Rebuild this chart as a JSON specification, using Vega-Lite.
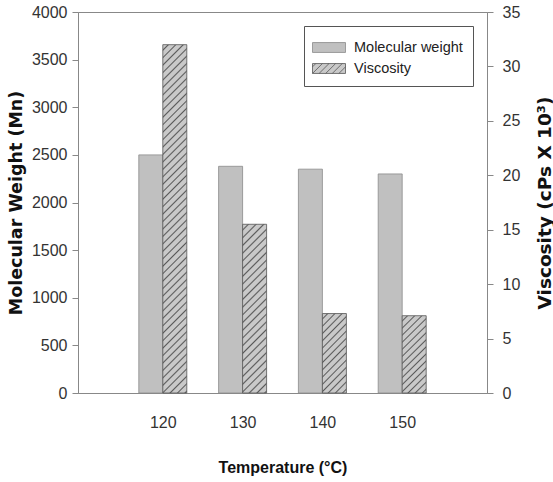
{
  "$schema": "https://vega.github.io/schema/vega-lite/v6.json",
  "autosize": {"type": "none"},
  "padding": {"left": 78, "top": 12, "right": 66, "bottom": 89},
  "width": 409,
  "height": 381,
  "background": "#ffffff",
  "config": {
    "view": {"stroke": "#888888", "strokeWidth": 1},
    "font": "Liberation Sans",
    "axis": {"grid": false, "domainColor": "#888888", "tickColor": "#888888", "labelFont": "Liberation Sans", "labelFontSize": 16, "labelColor": "#333333", "titleColor": "#111111"},
    "legend": {"orient": "top-right", "offset": 14, "padding": 10, "strokeColor": "#555555", "fillColor": "#ffffff", "rowPadding": 2, "symbolOffset": 3.5, "labelOffset": 13.5, "labelFont": "Liberation Sans", "labelFontSize": 14.5, "labelColor": "#222222", "symbolSize": 484, "symbolStrokeWidth": 0.8}
  },
  "data": {"values": [
    {"temp": 120, "mw": 2500, "visc": 32},
    {"temp": 130, "mw": 2380, "visc": 15.5},
    {"temp": 140, "mw": 2350, "visc": 7.3},
    {"temp": 150, "mw": 2300, "visc": 7.1}
  ]},
  "encoding": {
    "x": {"field": "temp", "type": "quantitative", "scale": {"domain": [110, 160], "nice": false, "zero": false},
      "axis": {"values": [120, 130, 140, 150], "ticks": false, "tickSize": 0, "labelPadding": 21, "labelFontSize": 16, "title": "Temperature (°C)", "titleFont": "Liberation Sans", "titleFontWeight": "bold", "titleFontSize": 16, "titleY": 79, "titleBaseline": "alphabetic"}}
  },
  "layer": [
    {
      "mark": {"type": "bar", "width": 24, "xOffset": -12, "fill": "#c0c0c0", "stroke": "#8a8a8a", "strokeWidth": 0.8},
      "encoding": {
        "y": {"field": "mw", "type": "quantitative", "scale": {"domain": [0, 4000], "nice": false},
          "axis": {"orient": "left", "values": [0, 500, 1000, 1500, 2000, 2500, 3000, 3500, 4000], "format": "d", "tickSize": 6, "labelPadding": 5, "title": "Molecular Weight (Mn)", "titleFont": "DejaVu Sans", "titleFontWeight": "bold", "titleFontSize": 17.5, "titleAngle": -90, "titleBaseline": "alphabetic", "titleAlign": "center", "titleX": -57, "titleY": 190.5}}
      }
    },
    {
      "encoding": {
        "y": {"field": "visc", "type": "quantitative", "scale": {"domain": [0, 35], "nice": false},
          "axis": {"orient": "right", "values": [0, 5, 10, 15, 20, 25, 30, 35], "tickSize": 6, "labelPadding": 9, "title": "Viscosity (cPs X 10³)", "titleFont": "DejaVu Sans", "titleFontWeight": "bold", "titleFontSize": 18.5, "titleAngle": -90, "titleBaseline": "alphabetic", "titleAlign": "center", "titleX": 63, "titleY": 190.5}}
      },
      "layer": [
        {
          "transform": [{"filter": "datum.temp == 120"}],
          "mark": {"type": "bar", "width": 24, "xOffset": 12, "stroke": "#555555", "strokeWidth": 0.8,
            "fill": {"gradient": "linear", "x1": 0, "y1": 0, "x2": 0.0733, "y2": 1.0639, "stops": [
{"offset":0.011,"color":"#c9c9c9"},{"offset":0.015,"color":"#5a5a5a"},{"offset":0.019,"color":"#c9c9c9"},
{"offset":0.031,"color":"#c9c9c9"},{"offset":0.035,"color":"#5a5a5a"},{"offset":0.039,"color":"#c9c9c9"},
{"offset":0.051,"color":"#c9c9c9"},{"offset":0.055,"color":"#5a5a5a"},{"offset":0.059,"color":"#c9c9c9"},
{"offset":0.071,"color":"#c9c9c9"},{"offset":0.075,"color":"#5a5a5a"},{"offset":0.079,"color":"#c9c9c9"},
{"offset":0.091,"color":"#c9c9c9"},{"offset":0.095,"color":"#5a5a5a"},{"offset":0.099,"color":"#c9c9c9"},
{"offset":0.111,"color":"#c9c9c9"},{"offset":0.115,"color":"#5a5a5a"},{"offset":0.119,"color":"#c9c9c9"},
{"offset":0.131,"color":"#c9c9c9"},{"offset":0.135,"color":"#5a5a5a"},{"offset":0.139,"color":"#c9c9c9"},
{"offset":0.151,"color":"#c9c9c9"},{"offset":0.155,"color":"#5a5a5a"},{"offset":0.159,"color":"#c9c9c9"},
{"offset":0.171,"color":"#c9c9c9"},{"offset":0.175,"color":"#5a5a5a"},{"offset":0.179,"color":"#c9c9c9"},
{"offset":0.191,"color":"#c9c9c9"},{"offset":0.195,"color":"#5a5a5a"},{"offset":0.199,"color":"#c9c9c9"},
{"offset":0.211,"color":"#c9c9c9"},{"offset":0.215,"color":"#5a5a5a"},{"offset":0.219,"color":"#c9c9c9"},
{"offset":0.231,"color":"#c9c9c9"},{"offset":0.235,"color":"#5a5a5a"},{"offset":0.239,"color":"#c9c9c9"},
{"offset":0.251,"color":"#c9c9c9"},{"offset":0.255,"color":"#5a5a5a"},{"offset":0.259,"color":"#c9c9c9"},
{"offset":0.271,"color":"#c9c9c9"},{"offset":0.275,"color":"#5a5a5a"},{"offset":0.279,"color":"#c9c9c9"},
{"offset":0.291,"color":"#c9c9c9"},{"offset":0.295,"color":"#5a5a5a"},{"offset":0.299,"color":"#c9c9c9"},
{"offset":0.311,"color":"#c9c9c9"},{"offset":0.315,"color":"#5a5a5a"},{"offset":0.319,"color":"#c9c9c9"},
{"offset":0.331,"color":"#c9c9c9"},{"offset":0.335,"color":"#5a5a5a"},{"offset":0.339,"color":"#c9c9c9"},
{"offset":0.351,"color":"#c9c9c9"},{"offset":0.355,"color":"#5a5a5a"},{"offset":0.359,"color":"#c9c9c9"},
{"offset":0.371,"color":"#c9c9c9"},{"offset":0.375,"color":"#5a5a5a"},{"offset":0.379,"color":"#c9c9c9"},
{"offset":0.391,"color":"#c9c9c9"},{"offset":0.395,"color":"#5a5a5a"},{"offset":0.399,"color":"#c9c9c9"},
{"offset":0.411,"color":"#c9c9c9"},{"offset":0.415,"color":"#5a5a5a"},{"offset":0.419,"color":"#c9c9c9"},
{"offset":0.431,"color":"#c9c9c9"},{"offset":0.435,"color":"#5a5a5a"},{"offset":0.439,"color":"#c9c9c9"},
{"offset":0.451,"color":"#c9c9c9"},{"offset":0.455,"color":"#5a5a5a"},{"offset":0.459,"color":"#c9c9c9"},
{"offset":0.471,"color":"#c9c9c9"},{"offset":0.475,"color":"#5a5a5a"},{"offset":0.479,"color":"#c9c9c9"},
{"offset":0.491,"color":"#c9c9c9"},{"offset":0.495,"color":"#5a5a5a"},{"offset":0.499,"color":"#c9c9c9"},
{"offset":0.511,"color":"#c9c9c9"},{"offset":0.515,"color":"#5a5a5a"},{"offset":0.519,"color":"#c9c9c9"},
{"offset":0.531,"color":"#c9c9c9"},{"offset":0.535,"color":"#5a5a5a"},{"offset":0.539,"color":"#c9c9c9"},
{"offset":0.551,"color":"#c9c9c9"},{"offset":0.555,"color":"#5a5a5a"},{"offset":0.559,"color":"#c9c9c9"},
{"offset":0.571,"color":"#c9c9c9"},{"offset":0.575,"color":"#5a5a5a"},{"offset":0.579,"color":"#c9c9c9"},
{"offset":0.591,"color":"#c9c9c9"},{"offset":0.595,"color":"#5a5a5a"},{"offset":0.599,"color":"#c9c9c9"},
{"offset":0.611,"color":"#c9c9c9"},{"offset":0.615,"color":"#5a5a5a"},{"offset":0.619,"color":"#c9c9c9"},
{"offset":0.631,"color":"#c9c9c9"},{"offset":0.635,"color":"#5a5a5a"},{"offset":0.639,"color":"#c9c9c9"},
{"offset":0.651,"color":"#c9c9c9"},{"offset":0.655,"color":"#5a5a5a"},{"offset":0.659,"color":"#c9c9c9"},
{"offset":0.671,"color":"#c9c9c9"},{"offset":0.675,"color":"#5a5a5a"},{"offset":0.679,"color":"#c9c9c9"},
{"offset":0.691,"color":"#c9c9c9"},{"offset":0.695,"color":"#5a5a5a"},{"offset":0.699,"color":"#c9c9c9"},
{"offset":0.711,"color":"#c9c9c9"},{"offset":0.715,"color":"#5a5a5a"},{"offset":0.719,"color":"#c9c9c9"},
{"offset":0.731,"color":"#c9c9c9"},{"offset":0.735,"color":"#5a5a5a"},{"offset":0.739,"color":"#c9c9c9"},
{"offset":0.751,"color":"#c9c9c9"},{"offset":0.755,"color":"#5a5a5a"},{"offset":0.759,"color":"#c9c9c9"},
{"offset":0.771,"color":"#c9c9c9"},{"offset":0.775,"color":"#5a5a5a"},{"offset":0.779,"color":"#c9c9c9"},
{"offset":0.791,"color":"#c9c9c9"},{"offset":0.795,"color":"#5a5a5a"},{"offset":0.799,"color":"#c9c9c9"},
{"offset":0.811,"color":"#c9c9c9"},{"offset":0.815,"color":"#5a5a5a"},{"offset":0.819,"color":"#c9c9c9"},
{"offset":0.831,"color":"#c9c9c9"},{"offset":0.835,"color":"#5a5a5a"},{"offset":0.839,"color":"#c9c9c9"},
{"offset":0.851,"color":"#c9c9c9"},{"offset":0.855,"color":"#5a5a5a"},{"offset":0.859,"color":"#c9c9c9"},
{"offset":0.871,"color":"#c9c9c9"},{"offset":0.875,"color":"#5a5a5a"},{"offset":0.879,"color":"#c9c9c9"},
{"offset":0.891,"color":"#c9c9c9"},{"offset":0.895,"color":"#5a5a5a"},{"offset":0.899,"color":"#c9c9c9"},
{"offset":0.911,"color":"#c9c9c9"},{"offset":0.915,"color":"#5a5a5a"},{"offset":0.919,"color":"#c9c9c9"},
{"offset":0.931,"color":"#c9c9c9"},{"offset":0.935,"color":"#5a5a5a"},{"offset":0.939,"color":"#c9c9c9"},
{"offset":0.951,"color":"#c9c9c9"},{"offset":0.955,"color":"#5a5a5a"},{"offset":0.959,"color":"#c9c9c9"},
{"offset":0.971,"color":"#c9c9c9"},{"offset":0.975,"color":"#5a5a5a"},{"offset":0.979,"color":"#c9c9c9"},
{"offset":0.991,"color":"#c9c9c9"},{"offset":0.995,"color":"#5a5a5a"},{"offset":0.999,"color":"#c9c9c9"}
            ]}}
        },
        {
          "transform": [{"filter": "datum.temp == 130"}],
          "mark": {"type": "bar", "width": 24, "xOffset": 12, "stroke": "#555555", "strokeWidth": 0.8,
            "fill": {"gradient": "linear", "x1": 0, "y1": 0, "x2": 0.1593, "y2": 1.1196, "stops": [
{"offset":0.022,"color":"#c9c9c9"},{"offset":0.030,"color":"#5a5a5a"},{"offset":0.038,"color":"#c9c9c9"},
{"offset":0.062,"color":"#c9c9c9"},{"offset":0.070,"color":"#5a5a5a"},{"offset":0.078,"color":"#c9c9c9"},
{"offset":0.102,"color":"#c9c9c9"},{"offset":0.110,"color":"#5a5a5a"},{"offset":0.118,"color":"#c9c9c9"},
{"offset":0.142,"color":"#c9c9c9"},{"offset":0.150,"color":"#5a5a5a"},{"offset":0.158,"color":"#c9c9c9"},
{"offset":0.182,"color":"#c9c9c9"},{"offset":0.190,"color":"#5a5a5a"},{"offset":0.198,"color":"#c9c9c9"},
{"offset":0.222,"color":"#c9c9c9"},{"offset":0.230,"color":"#5a5a5a"},{"offset":0.238,"color":"#c9c9c9"},
{"offset":0.262,"color":"#c9c9c9"},{"offset":0.270,"color":"#5a5a5a"},{"offset":0.278,"color":"#c9c9c9"},
{"offset":0.302,"color":"#c9c9c9"},{"offset":0.310,"color":"#5a5a5a"},{"offset":0.318,"color":"#c9c9c9"},
{"offset":0.342,"color":"#c9c9c9"},{"offset":0.350,"color":"#5a5a5a"},{"offset":0.358,"color":"#c9c9c9"},
{"offset":0.382,"color":"#c9c9c9"},{"offset":0.390,"color":"#5a5a5a"},{"offset":0.398,"color":"#c9c9c9"},
{"offset":0.422,"color":"#c9c9c9"},{"offset":0.430,"color":"#5a5a5a"},{"offset":0.438,"color":"#c9c9c9"},
{"offset":0.462,"color":"#c9c9c9"},{"offset":0.470,"color":"#5a5a5a"},{"offset":0.478,"color":"#c9c9c9"},
{"offset":0.502,"color":"#c9c9c9"},{"offset":0.510,"color":"#5a5a5a"},{"offset":0.518,"color":"#c9c9c9"},
{"offset":0.542,"color":"#c9c9c9"},{"offset":0.550,"color":"#5a5a5a"},{"offset":0.558,"color":"#c9c9c9"},
{"offset":0.582,"color":"#c9c9c9"},{"offset":0.590,"color":"#5a5a5a"},{"offset":0.598,"color":"#c9c9c9"},
{"offset":0.622,"color":"#c9c9c9"},{"offset":0.630,"color":"#5a5a5a"},{"offset":0.638,"color":"#c9c9c9"},
{"offset":0.662,"color":"#c9c9c9"},{"offset":0.670,"color":"#5a5a5a"},{"offset":0.678,"color":"#c9c9c9"},
{"offset":0.702,"color":"#c9c9c9"},{"offset":0.710,"color":"#5a5a5a"},{"offset":0.718,"color":"#c9c9c9"},
{"offset":0.742,"color":"#c9c9c9"},{"offset":0.750,"color":"#5a5a5a"},{"offset":0.758,"color":"#c9c9c9"},
{"offset":0.782,"color":"#c9c9c9"},{"offset":0.790,"color":"#5a5a5a"},{"offset":0.798,"color":"#c9c9c9"},
{"offset":0.822,"color":"#c9c9c9"},{"offset":0.830,"color":"#5a5a5a"},{"offset":0.838,"color":"#c9c9c9"},
{"offset":0.862,"color":"#c9c9c9"},{"offset":0.870,"color":"#5a5a5a"},{"offset":0.878,"color":"#c9c9c9"},
{"offset":0.902,"color":"#c9c9c9"},{"offset":0.910,"color":"#5a5a5a"},{"offset":0.918,"color":"#c9c9c9"},
{"offset":0.942,"color":"#c9c9c9"},{"offset":0.950,"color":"#5a5a5a"},{"offset":0.958,"color":"#c9c9c9"},
{"offset":0.982,"color":"#c9c9c9"},{"offset":0.990,"color":"#5a5a5a"},{"offset":0.998,"color":"#c9c9c9"}
            ]}}
        },
        {
          "transform": [{"filter": "datum.temp >= 140"}],
          "mark": {"type": "bar", "width": 24, "xOffset": 12, "stroke": "#555555", "strokeWidth": 0.8,
            "fill": {"gradient": "linear", "x1": 0, "y1": 0, "x2": 0.3656, "y2": 1.194, "stops": [
{"offset":0.0385,"color":"#c9c9c9"},{"offset":0.0525,"color":"#5a5a5a"},{"offset":0.0665,"color":"#c9c9c9"},
{"offset":0.1085,"color":"#c9c9c9"},{"offset":0.1225,"color":"#5a5a5a"},{"offset":0.1365,"color":"#c9c9c9"},
{"offset":0.1785,"color":"#c9c9c9"},{"offset":0.1925,"color":"#5a5a5a"},{"offset":0.2065,"color":"#c9c9c9"},
{"offset":0.2485,"color":"#c9c9c9"},{"offset":0.2625,"color":"#5a5a5a"},{"offset":0.2765,"color":"#c9c9c9"},
{"offset":0.3185,"color":"#c9c9c9"},{"offset":0.3325,"color":"#5a5a5a"},{"offset":0.3465,"color":"#c9c9c9"},
{"offset":0.3885,"color":"#c9c9c9"},{"offset":0.4025,"color":"#5a5a5a"},{"offset":0.4165,"color":"#c9c9c9"},
{"offset":0.4585,"color":"#c9c9c9"},{"offset":0.4725,"color":"#5a5a5a"},{"offset":0.4865,"color":"#c9c9c9"},
{"offset":0.5285,"color":"#c9c9c9"},{"offset":0.5425,"color":"#5a5a5a"},{"offset":0.5565,"color":"#c9c9c9"},
{"offset":0.5985,"color":"#c9c9c9"},{"offset":0.6125,"color":"#5a5a5a"},{"offset":0.6265,"color":"#c9c9c9"},
{"offset":0.6685,"color":"#c9c9c9"},{"offset":0.6825,"color":"#5a5a5a"},{"offset":0.6965,"color":"#c9c9c9"},
{"offset":0.7385,"color":"#c9c9c9"},{"offset":0.7525,"color":"#5a5a5a"},{"offset":0.7665,"color":"#c9c9c9"},
{"offset":0.8085,"color":"#c9c9c9"},{"offset":0.8225,"color":"#5a5a5a"},{"offset":0.8365,"color":"#c9c9c9"},
{"offset":0.8785,"color":"#c9c9c9"},{"offset":0.8925,"color":"#5a5a5a"},{"offset":0.9065,"color":"#c9c9c9"},
{"offset":0.9485,"color":"#c9c9c9"},{"offset":0.9625,"color":"#5a5a5a"},{"offset":0.9765,"color":"#c9c9c9"}
            ]}}
        }
      ]
    },
    {
      "data": {"values": [{"series": "Molecular weight"}, {"series": "Viscosity"}]},
      "transform": [{"filter": "false"}],
      "mark": {"type": "point", "filled": true, "size": 484, "strokeWidth": 0.8, "opacity": 1},
      "encoding": {
        "x": null,
        "fill": {"field": "series", "type": "nominal", "scale": {"domain": ["Molecular weight", "Viscosity"], "range": ["#c0c0c0", "#c9c9c9"]}, "legend": {"title": null}},
        "stroke": {"field": "series", "type": "nominal", "scale": {"domain": ["Molecular weight", "Viscosity"], "range": ["#8a8a8a", "#555555"]}, "legend": {"title": null}},
        "shape": {"field": "series", "type": "nominal", "scale": {"domain": ["Molecular weight", "Viscosity"], "range": ["M-1.5,-0.45H1.5V0.45H-1.5Z", "M-1.5,-0.45H1.5V0.45H-1.5Z M-1.5,-0.15L-1.2,-0.45 M-1.5,0.45L-0.6,-0.45 M-0.9,0.45L0,-0.45 M-0.3,0.45L0.6,-0.45 M0.3,0.45L1.2,-0.45 M0.9,0.45L1.5,-0.15"]}, "legend": {"title": null}}
      }
    }
  ],
  "resolve": {"scale": {"y": "independent"}}
}
